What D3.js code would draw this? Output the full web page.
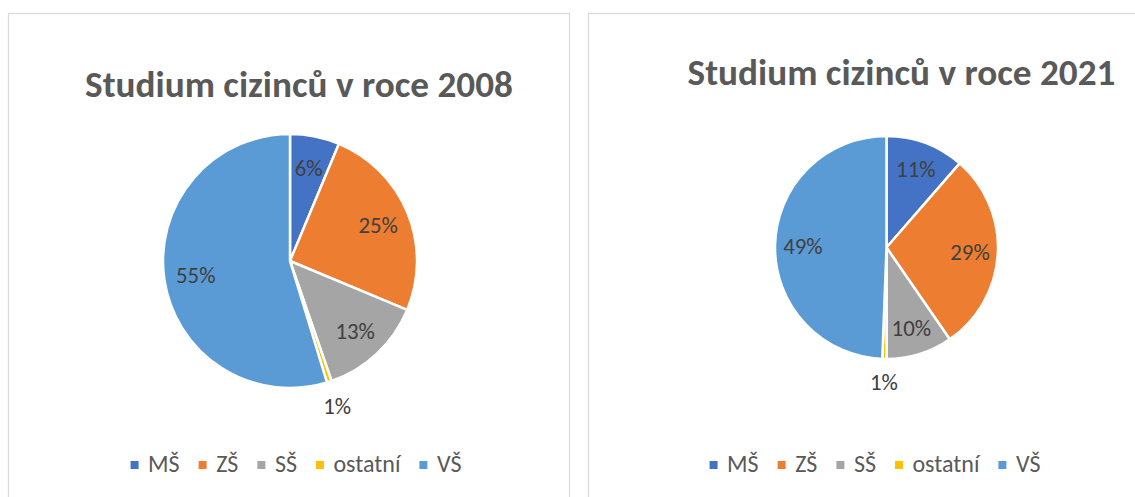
<!DOCTYPE html>
<html>
<head>
<meta charset="utf-8">
<script src="https://cdn.jsdelivr.net/npm/d3@7"></script>
<style>
  html, body { margin: 0; padding: 0; background: #fff; }
  svg { display: block; }
  text { font-family: Carlito, Calibri, Lato, "Open Sans", sans-serif; }
</style>
</head>
<body>
<svg id="chart" width="1135" height="497"></svg>
<script>
// ---- data ----
const categories = ["MŠ", "ZŠ", "SŠ", "ostatní", "VŠ"];
const values2008 = [6.3, 25.0, 13.4, 0.6, 54.7];
const values2021 = [11.4, 29.0, 9.6, 0.6, 49.4];
const titles = ["Studium cizinců v roce 2008", "Studium cizinců v roce 2021"];
const colors = ["#4472C4", "#ED7D31", "#A5A5A5", "#FFC000", "#5B9BD5"];

// ---- layout ----
const panels = [
  { x: 8.5, y: 13.5, w: 561, h: 500, values: values2008, title: titles[0],
    titleX: 299, titleY: 97, cx: 290, cy: 261, r: 127, legendCX: 296, legendY: 465 },
  { x: 588.5, y: 13.5, w: 560, h: 500, values: values2021, title: titles[1],
    titleX: 901.5, titleY: 85, cx: 886.5, cy: 247.5, r: 111.5, legendCX: 875, legendY: 465 }
];

const svg = d3.select("#chart");

function fitSize(sel, target, start) {
  sel.style("font-size", start + "px");
  const w = sel.node().getComputedTextLength();
  const s = start * target / w;
  sel.style("font-size", s + "px");
  return s;
}

// measure font sizes once
const probe = svg.append("text").attr("x", -1000).attr("y", -1000);
probe.attr("font-weight", "bold").text(titles[0]);
const titleSize = fitSize(probe, 428, 32);
probe.attr("font-weight", null).text("25%");
const labelSize = fitSize(probe, 39.5, 20);
probe.text("ostatní");
const legendSize = fitSize(probe, 67, 20);
probe.remove();

const pie = d3.pie().sort(null).value(d => d);
const color = d3.scaleOrdinal().domain(categories).range(colors);
const fmt = d3.format(".0%");

panels.forEach(p => {
  // border
  svg.append("rect")
    .attr("x", p.x).attr("y", p.y).attr("width", p.w).attr("height", p.h)
    .attr("fill", "#fff").attr("stroke", "#D9D9D9").attr("stroke-width", 1.2);

  // title
  svg.append("text")
    .attr("x", p.titleX).attr("y", p.titleY)
    .attr("text-anchor", "middle")
    .attr("font-weight", "bold")
    .style("font-size", titleSize + "px")
    .attr("fill", "#595959")
    .text(p.title);

  const total = d3.sum(p.values);
  const arcs = pie(p.values.map(v => v));
  const arc = d3.arc().innerRadius(0).outerRadius(p.r);
  const inner = d3.arc().innerRadius(p.r * 0.75).outerRadius(p.r * 0.75);
  const outer = d3.arc().innerRadius(p.r * 1.2).outerRadius(p.r * 1.2);

  const g = svg.append("g").attr("transform", `translate(${p.cx},${p.cy})`);
  g.selectAll("path").data(arcs).join("path")
    .attr("d", arc)
    .attr("fill", (d, i) => color(categories[i]))
    .attr("stroke", "#fff")
    .attr("stroke-width", 2.5)
    .attr("stroke-linejoin", "round");

  g.selectAll("text.lbl").data(arcs).join("text")
    .attr("class", "lbl")
    .attr("transform", d => {
      const share = d.data / total;
      const c = share < 0.02 ? outer.centroid(d) : inner.centroid(d);
      return `translate(${c[0]},${c[1]})`;
    })
    .attr("text-anchor", "middle")
    .attr("dy", "0.36em")
    .style("font-size", labelSize + "px")
    .attr("fill", "#404040")
    .text(d => fmt(d.data / total));

  // legend
  const lg = svg.append("g");
  const items = lg.selectAll("g").data(categories).join("g");
  items.append("rect")
    .attr("width", 8).attr("height", 8)
    .attr("y", -4)
    .attr("fill", d => color(d));
  const texts = items.append("text")
    .attr("x", 17.5).attr("y", 6.5)
    .style("font-size", legendSize + "px")
    .attr("fill", "#595959")
    .text(d => d);
  let x = 0;
  items.each(function () {
    const t = d3.select(this).select("text").node().getComputedTextLength();
    d3.select(this).attr("transform", `translate(${x},0)`);
    x += 17.5 + t + 19;
  });
  const totalW = x - 19;
  lg.attr("transform", `translate(${p.legendCX - totalW / 2},${p.legendY})`);
});
</script>
</body>
</html>
